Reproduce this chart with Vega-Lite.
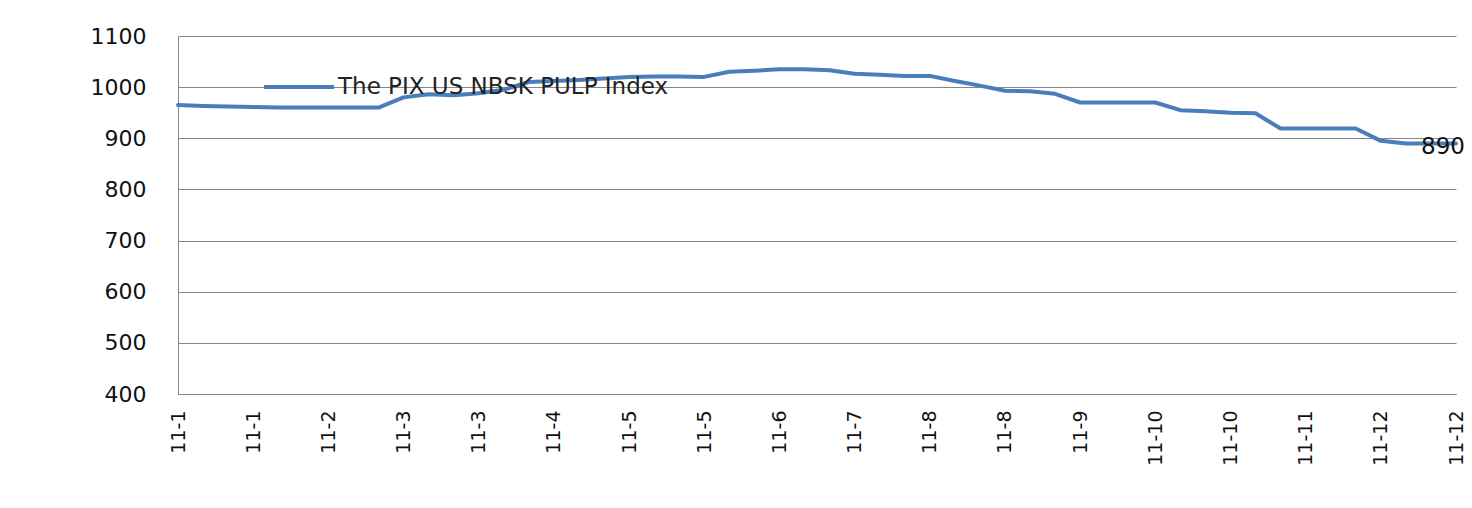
{
  "$schema": "https://vega.github.io/schema/vega-lite/v6.json",
  "width": 1278,
  "height": 358,
  "autosize": {"type": "none"},
  "padding": {"left": 178, "top": 36, "right": 16, "bottom": 114},
  "background": "white",
  "config": {
    "view": {"stroke": null},
    "font": "DejaVu Sans"
  },
  "data": {
    "values": [
      {"i": 0, "v": 965, "series": "The PIX US NBSK PULP Index"},
      {"i": 1, "v": 963, "series": "The PIX US NBSK PULP Index"},
      {"i": 2, "v": 962, "series": "The PIX US NBSK PULP Index"},
      {"i": 3, "v": 961, "series": "The PIX US NBSK PULP Index"},
      {"i": 4, "v": 960, "series": "The PIX US NBSK PULP Index"},
      {"i": 5, "v": 960, "series": "The PIX US NBSK PULP Index"},
      {"i": 6, "v": 960, "series": "The PIX US NBSK PULP Index"},
      {"i": 7, "v": 960, "series": "The PIX US NBSK PULP Index"},
      {"i": 8, "v": 960, "series": "The PIX US NBSK PULP Index"},
      {"i": 9, "v": 980, "series": "The PIX US NBSK PULP Index"},
      {"i": 10, "v": 986, "series": "The PIX US NBSK PULP Index"},
      {"i": 11, "v": 984, "series": "The PIX US NBSK PULP Index"},
      {"i": 12, "v": 988, "series": "The PIX US NBSK PULP Index"},
      {"i": 13, "v": 995, "series": "The PIX US NBSK PULP Index"},
      {"i": 14, "v": 1010, "series": "The PIX US NBSK PULP Index"},
      {"i": 15, "v": 1012, "series": "The PIX US NBSK PULP Index"},
      {"i": 16, "v": 1014, "series": "The PIX US NBSK PULP Index"},
      {"i": 17, "v": 1017, "series": "The PIX US NBSK PULP Index"},
      {"i": 18, "v": 1020, "series": "The PIX US NBSK PULP Index"},
      {"i": 19, "v": 1021, "series": "The PIX US NBSK PULP Index"},
      {"i": 20, "v": 1021, "series": "The PIX US NBSK PULP Index"},
      {"i": 21, "v": 1020, "series": "The PIX US NBSK PULP Index"},
      {"i": 22, "v": 1030, "series": "The PIX US NBSK PULP Index"},
      {"i": 23, "v": 1032, "series": "The PIX US NBSK PULP Index"},
      {"i": 24, "v": 1035, "series": "The PIX US NBSK PULP Index"},
      {"i": 25, "v": 1035, "series": "The PIX US NBSK PULP Index"},
      {"i": 26, "v": 1033, "series": "The PIX US NBSK PULP Index"},
      {"i": 27, "v": 1026, "series": "The PIX US NBSK PULP Index"},
      {"i": 28, "v": 1024, "series": "The PIX US NBSK PULP Index"},
      {"i": 29, "v": 1022, "series": "The PIX US NBSK PULP Index"},
      {"i": 30, "v": 1022, "series": "The PIX US NBSK PULP Index"},
      {"i": 31, "v": 1012, "series": "The PIX US NBSK PULP Index"},
      {"i": 32, "v": 1003, "series": "The PIX US NBSK PULP Index"},
      {"i": 33, "v": 993, "series": "The PIX US NBSK PULP Index"},
      {"i": 34, "v": 992, "series": "The PIX US NBSK PULP Index"},
      {"i": 35, "v": 987, "series": "The PIX US NBSK PULP Index"},
      {"i": 36, "v": 970, "series": "The PIX US NBSK PULP Index"},
      {"i": 37, "v": 970, "series": "The PIX US NBSK PULP Index"},
      {"i": 38, "v": 970, "series": "The PIX US NBSK PULP Index"},
      {"i": 39, "v": 970, "series": "The PIX US NBSK PULP Index"},
      {"i": 40, "v": 955, "series": "The PIX US NBSK PULP Index"},
      {"i": 41, "v": 953, "series": "The PIX US NBSK PULP Index"},
      {"i": 42, "v": 950, "series": "The PIX US NBSK PULP Index"},
      {"i": 43, "v": 949, "series": "The PIX US NBSK PULP Index"},
      {"i": 44, "v": 919, "series": "The PIX US NBSK PULP Index"},
      {"i": 45, "v": 919, "series": "The PIX US NBSK PULP Index"},
      {"i": 46, "v": 919, "series": "The PIX US NBSK PULP Index"},
      {"i": 47, "v": 919, "series": "The PIX US NBSK PULP Index"},
      {"i": 48, "v": 895, "series": "The PIX US NBSK PULP Index"},
      {"i": 49, "v": 890, "series": "The PIX US NBSK PULP Index"},
      {"i": 50, "v": 890, "series": "The PIX US NBSK PULP Index"},
      {"i": 51, "v": 890, "series": "The PIX US NBSK PULP Index"}
    ]
  },
  "encoding": {
    "x": {
      "field": "i",
      "type": "quantitative",
      "scale": {"domain": [0, 51], "nice": false, "zero": false},
      "axis": {
        "title": null,
        "values": [0, 3, 6, 9, 12, 15, 18, 21, 24, 27, 30, 33, 36, 39, 42, 45, 48, 51],
        "labelExpr": "['11-1','11-1','11-2','11-3','11-3','11-4','11-5','11-5','11-6','11-7','11-8','11-8','11-9','11-10','11-10','11-11','11-12','11-12'][round(datum.value/3)]",
        "labelAngle": -90,
        "labelFontSize": 19,
        "labelColor": "#111111",
        "labelFont": "DejaVu Sans",
        "labelPadding": 16,
        "ticks": false,
        "grid": false,
        "domainColor": "#868686",
        "domainWidth": 1,
        "labelOverlap": false,
        "labelFlush": false
      }
    },
    "y": {
      "field": "v",
      "type": "quantitative",
      "scale": {"domain": [400, 1100], "nice": false, "zero": false},
      "axis": {
        "title": null,
        "format": "d",
        "values": [400, 500, 600, 700, 800, 900, 1000, 1100],
        "labelFontSize": 22,
        "labelColor": "#111111",
        "labelFont": "DejaVu Sans",
        "labelPadding": 32,
        "ticks": false,
        "grid": true,
        "gridColor": "#868686",
        "gridWidth": 1,
        "domainColor": "#868686",
        "domainWidth": 1,
        "labelFlush": false
      }
    }
  },
  "layer": [
    {
      "mark": {"type": "line", "strokeWidth": 4, "strokeJoin": "round", "strokeCap": "round"},
      "encoding": {
        "color": {
          "field": "series",
          "type": "nominal",
          "scale": {"range": ["#4A7EBB"]},
          "legend": {
            "orient": "none",
            "legendX": 84,
            "legendY": 14,
            "title": null,
            "padding": 0,
            "symbolType": "stroke",
            "symbolSize": 4900,
            "symbolStrokeWidth": 4,
            "labelFontSize": 23,
            "labelFont": "DejaVu Sans",
            "labelColor": "#222222",
            "labelOffset": 2,
            "labelLimit": 800
          }
        }
      }
    },
    {
      "transform": [{"filter": "datum.i == 51"}],
      "mark": {"type": "text", "align": "center", "baseline": "middle", "dx": -13, "dy": 4, "fontSize": 23, "font": "DejaVu Sans", "color": "#111111"},
      "encoding": {"text": {"field": "v", "type": "quantitative"}}
    }
  ]
}
